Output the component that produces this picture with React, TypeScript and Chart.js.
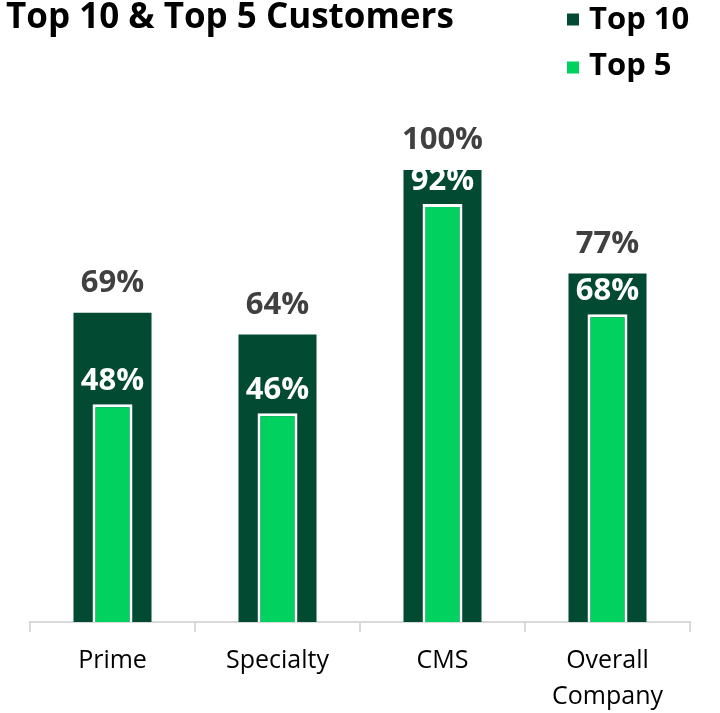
import React, { useEffect, useRef } from "react";
import { Chart, registerables } from "chart.js";

Chart.register(...registerables);

const categories: (string | string[])[] = ["Prime", "Specialty", "CMS", ["Overall", "Company"]];
const top10 = [0.684, 0.636, 1.0, 0.771];
const top5 = [0.482, 0.462, 0.925, 0.681];
const top10Labels = ["69%", "64%", "100%", "77%"];
const top5Labels = ["48%", "46%", "92%", "68%"];
const seriesNames = ["Top 10", "Top 5"];
const titleText = "Top 10 & Top 5 Customers";

const DARK = "#034A33";
const LIGHT = "#00D15F";
const FONT = "'Open Sans', 'Noto Sans', sans-serif";

const overlayPlugin = {
  id: "overlay",
  afterDatasetsDraw(chart: any) {
    const ctx = chart.ctx;
    ctx.save();
    ctx.textAlign = "center";
    ctx.textBaseline = "alphabetic";
    ctx.font = `bold 31px ${FONT}`;
    const m0 = chart.getDatasetMeta(0);
    m0.data.forEach((bar: any, i: number) => {
      ctx.fillStyle = "#404040";
      ctx.fillText(top10Labels[i], bar.x, bar.y - 21);
    });
    const m1 = chart.getDatasetMeta(1);
    m1.data.forEach((bar: any, i: number) => {
      ctx.fillStyle = "#FFFFFF";
      ctx.fillText(top5Labels[i], bar.x, bar.y - 14);
    });
    ctx.restore();
  },
  afterDraw(chart: any) {
    const ctx = chart.ctx;
    ctx.save();
    ctx.fillStyle = "#000000";
    ctx.textAlign = "left";
    ctx.textBaseline = "alphabetic";
    ctx.font = `bold 35px ${FONT}`;
    ctx.fillText(titleText, 6, 28);
    ctx.font = `bold 31px ${FONT}`;
    const colors = [DARK, LIGHT];
    const markerY = [19.5, 67.5];
    const baseY = [29, 75];
    seriesNames.forEach((name, i) => {
      ctx.fillStyle = colors[i];
      ctx.fillRect(567, markerY[i] - 6, 12, 12);
      ctx.fillStyle = "#000000";
      ctx.fillText(name, 589, baseY[i]);
    });
    ctx.restore();
  },
};

export default function App() {
  const ref = useRef<HTMLCanvasElement>(null);
  useEffect(() => {
    document.body.style.margin = "0";
    const chart = new Chart(ref.current!, {
      type: "bar",
      data: {
        labels: categories,
        datasets: [
          {
            label: seriesNames[0],
            data: top10,
            backgroundColor: DARK,
            borderWidth: 0,
            barPercentage: 0.473,
            categoryPercentage: 1,
            grouped: false,
            order: 2,
          },
          {
            label: seriesNames[1],
            data: top5,
            backgroundColor: LIGHT,
            borderColor: "#FFFFFF",
            borderWidth: 3,
            barPercentage: 0.242,
            categoryPercentage: 1,
            grouped: false,
            order: 1,
          },
        ],
      },
      options: {
        animation: false,
        responsive: true,
        maintainAspectRatio: false,
        layout: { padding: { top: 170, left: 30, right: 30, bottom: 0 } },
        plugins: { legend: { display: false }, title: { display: false }, tooltip: { enabled: false } },
        scales: {
          y: { display: false, min: 0, max: 1 },
          x: {
            afterFit: (scale: any) => {
              scale.height = 91;
            },
            grid: {
              display: true,
              drawOnChartArea: false,
              drawTicks: true,
              tickLength: 10,
              color: "#D9D9D9",
              lineWidth: 2,
              offset: true,
            },
            border: { display: true, color: "#D9D9D9", width: 2 },
            ticks: {
              color: "#000000",
              padding: 11,
              font: { family: FONT, size: 25, lineHeight: "36px" as any },
            },
          },
        },
      },
      plugins: [overlayPlugin],
    });
    return () => chart.destroy();
  }, []);
  return (
    <div style={{ position: "absolute", left: 0, top: 0, width: 720, height: 713 }}>
      <canvas ref={ref} />
    </div>
  );
}
